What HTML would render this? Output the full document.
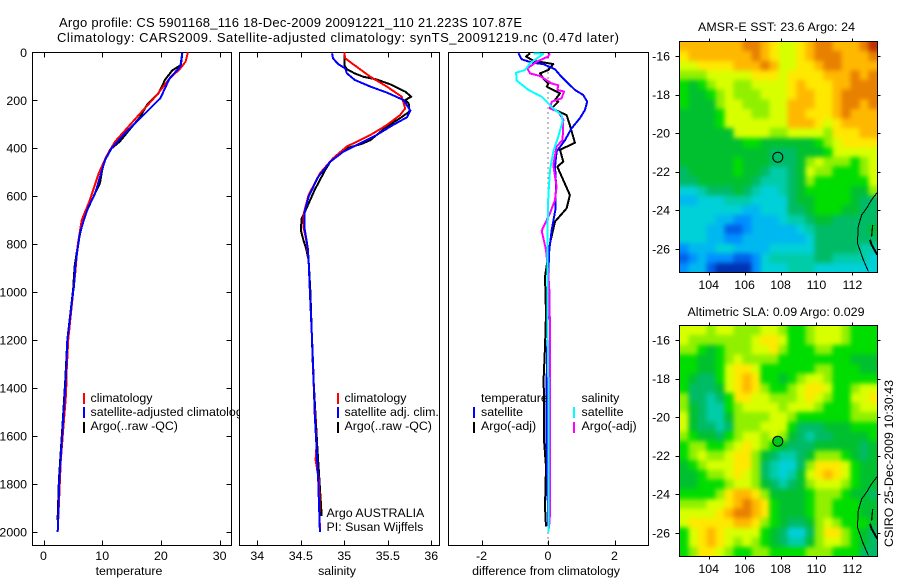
<!DOCTYPE html>
<html lang="en">
<head>
<meta charset="utf-8">
<title>Argo profile chart</title>
<style>
html,body{margin:0;padding:0;background:#fff;}
svg{display:block;}
text{font-family:"Liberation Sans",sans-serif;font-size:12.4px;fill:#000;}
.big{font-size:13px;}
</style>
</head>
<body>
<svg id="chart" xmlns="http://www.w3.org/2000/svg" width="900" height="580" viewBox="0 0 900 580">
  <defs>
    <filter id="map-smooth" x="-5%" y="-5%" width="110%" height="110%" color-interpolation-filters="sRGB">
      <feGaussianBlur stdDeviation="2.4"/>
    </filter>
  </defs>
  <rect x="0" y="0" width="900" height="580" fill="#fff"/>
  <text class="big" x="59" y="27" textLength="463" lengthAdjust="spacing">Argo profile: CS 5901168_116 18-Dec-2009 20091221_110 21.223S 107.87E</text>
  <text class="big" x="57" y="42" textLength="562" lengthAdjust="spacing">Climatology: CARS2009. Satellite-adjusted climatology: synTS_20091219.nc (0.47d later)</text>

  <g id="panel-t"></g>
  <g>
    <rect x="83" y="393" width="2" height="11" fill="#f00"/>
    <rect x="83" y="407" width="2" height="11" fill="#00f"/>
    <rect x="83" y="422" width="2" height="11" fill="#000"/>
    <text x="90.5" y="402">climatology</text>
    <text x="90.5" y="416">satellite-adjusted climatology</text>
    <text x="90.5" y="430">Argo(..raw -QC)</text>
  </g>

  <g id="panel-s"></g>
  <g>
    <rect x="337" y="393" width="2" height="11" fill="#f00"/>
    <rect x="337" y="407" width="2" height="11" fill="#00f"/>
    <rect x="337" y="422" width="2" height="11" fill="#000"/>
    <text x="344.5" y="402">climatology</text>
    <text x="344.5" y="416">satellite adj. clim.</text>
    <text x="344.5" y="430">Argo(..raw -QC)</text>
    <text x="326.5" y="517">Argo AUSTRALIA</text>
    <text x="326.5" y="531">PI: Susan Wijffels</text>
  </g>

  <g id="panel-d"></g>
  <g>
    <text x="481" y="402">temperature</text>
    <rect x="473" y="407" width="2" height="11" fill="#00f"/>
    <text x="481" y="416">satellite</text>
    <rect x="473" y="422" width="2" height="11" fill="#000"/>
    <text x="481" y="430">Argo(-adj)</text>
    <text x="581.5" y="402">salinity</text>
    <rect x="573" y="407" width="2" height="11" fill="#0ff"/>
    <text x="581.5" y="416">satellite</text>
    <rect x="573" y="422" width="2" height="11" fill="#f0f"/>
    <text x="581.5" y="430">Argo(-adj)</text>
  </g>

  <g id="map-sst"></g>
  <g id="map-sla"></g>
  <text x="698" y="31" textLength="157" lengthAdjust="spacing">AMSR-E SST: 23.6 Argo: 24</text>
  <text x="687.5" y="316" textLength="177" lengthAdjust="spacing">Altimetric SLA: 0.09 Argo: 0.029</text>
  <text transform="translate(893,547) rotate(-90)" textLength="167" lengthAdjust="spacing">CSIRO 25-Dec-2009 10:30:43</text>
</svg>

<script>
// ---------- Panel tick labels ----------
const depthTicks = [0,200,400,600,800,1000,1200,1400,1600,1800,2000];
const tempTicks = [0,10,20,30];
const salTicks = [34,34.5,35,35.5,36];
const diffTicks = [-2,0,2];
const lonTicks = [104,106,108,110,112];
const latTicks = [-16,-18,-20,-22,-24,-26];

// ---------- Temperature profiles ----------
const tClimDepth = [0,39,67,115,178,240,317,372,435,505,616,700,810,922,990,1200,1325,1419,1470,1700,2000];
const tClimValue = [24.6,24.2,23.3,21.3,19.3,17,14.2,12.2,10.7,9.4,7.9,6.5,5.8,5.4,5.1,4.2,3.95,3.85,3.7,2.95,2.42];
const tSatDepth = [0,60,108,192,233,289,345,400,449,505,588,644,706,755,824,894,977,1000,1200,1366,1561,1783,2000];
const tSatValue = [23.66,23.3,21.5,19.9,18.2,15.9,13.6,11.6,10.5,9.8,8.8,7.65,6.8,6.2,5.8,5.4,5.2,5.05,4.05,3.78,3.27,2.7,2.42];
const tArgoDepth = [0,53,76,115,171,220,268,372,407,463,546,602,692,796,894,990,1200,1366,1561,1783,1950];
const tArgoValue = [23.66,23.4,21.9,20.7,19.6,17.6,16.5,13,11.3,10.2,9.6,8.5,6.8,5.9,5.3,5.05,4.05,3.72,3.22,2.62,2.4];

// ---------- Salinity profiles ----------
const sClimDepth = [0,25,49,102,143,185,234,262,303,345,393,442,505,595,678,727,797,866,1000,1200,1400,1640,1700,1790,2000];
const sClimValue = [35,35.01,35.1,35.3,35.49,35.66,35.7,35.64,35.49,35.3,35.03,34.87,34.72,34.59,34.53,34.53,34.57,34.59,34.605,34.63,34.65,34.68,34.67,34.71,34.72];
const sSatDepth = [4,25,49,67,88,115,143,168,199,243,271,303,345,387,414,456,519,602,672,727,817,866,1000,1200,1325,1505,1645,1783,2000];
const sSatValue = [34.86,34.87,34.93,35.01,35.03,35.12,35.3,35.49,35.68,35.76,35.72,35.56,35.37,35.14,34.99,34.84,34.7,34.59,34.54,34.54,34.58,34.59,34.605,34.63,34.644,34.66,34.68,34.7,34.72];
const sArgoDepth = [4,53,71,88,102,113,134,164,185,199,213,247,275,310,366,382,400,456,491,574,664,692,741,783,817,866,1000,1325,1645,1934];
const sArgoValue = [35,35,35.03,35.12,35.22,35.37,35.53,35.7,35.77,35.7,35.74,35.75,35.64,35.49,35.3,35.2,35.03,34.84,34.78,34.66,34.55,34.51,34.5,34.53,34.56,34.59,34.61,34.64,34.69,34.74];

// ---------- Differences from climatology ----------
const dTSatDepth = [4,29,43,49,71,95,123,157,178,206,241,275,317,366,414,477,546,658,741,824,922,991,1353,1644,1985];
const dTSatValue = [-0.89,-0.79,-0.49,-0.14,0.21,0.36,0.56,0.81,1.06,1.18,1.11,0.96,0.71,0.51,0.26,0.21,0.24,0.22,0.11,0.04,0.01,0.01,-0.04,-0.04,0.01];
const dTArgoDepth = [4,18,35,49,74,88,109,130,143,171,199,206,234,262,296,377,407,456,477,595,651,706,797,853,936,1089,1228,1353,1617,1728,1895,1978];
const dTArgoValue = [-0.54,-0.66,-0.44,0.16,0.01,-0.24,-0.14,0.01,-0.04,0.36,0.21,0.31,0.11,0.56,0.64,0.81,0.36,0.46,0.28,0.66,0.56,0.21,0.06,0,-0.09,-0.06,-0.09,-0.13,-0.12,-0.06,-0.09,-0.06];
const dSArgoDepth = [4,18,39,67,88,99,130,137,157,164,192,206,234,248,282,366,393,470,560,616,671,744,824,922,991,1158,1380,1575,1922,1985];
const dSArgoValue = [0.06,0,-0.34,-0.62,-0.54,-0.24,0.11,0.31,0.28,0.48,0.41,0.11,0.06,0.31,0.46,0.44,0.26,0.16,0.26,0.21,0.06,-0.19,-0.06,0.01,0.04,0.06,0.06,0.06,0.06,0.03];
const dSSatDepth = [4,7,46,74,85,118,157,185,234,262,289,352,414,491,602,783,977,1060,1367,1783,2000];
const dSSatValue = [-0.44,-0.14,-0.54,-0.69,-0.96,-0.94,-0.59,-0.19,0.16,0.41,0.44,0.31,0.16,0.06,0.01,-0.02,-0.02,-0.02,0.01,0.01,0.01];

// ---------- Map fields (colour-level per grid cell, north to south) ----------
const mapLevels = ['#0033b0','#0060e8','#0090ff','#00b8f0','#00d0d8','#00cca8','#00bb66','#00c030','#00dd00','#90f000','#d8ff00','#ffe800','#ffb800','#e88000','#c03000'];
const sstGrid = [
[12,12,12,12,12,12,12,13,13,12,11,10,10,11,12,13,13,12,12,12,13,14],
[11,12,12,12,12,12,12,12,13,12,11,10,10,11,12,13,13,13,12,12,12,13],
[10,10,11,11,11,11,12,12,12,13,12,10,10,11,11,12,13,13,12,12,12,12],
[9,9,9,10,10,10,10,10,11,11,11,10,11,11,11,11,12,12,12,13,12,13],
[8,7,8,9,10,10,9,9,10,10,10,10,11,12,11,11,11,12,12,13,13,13],
[8,7,7,8,9,10,9,9,9,10,10,10,11,12,12,11,11,12,13,13,13,13],
[8,7,7,7,9,10,10,9,9,9,10,10,12,12,12,11,11,12,13,13,12,13],
[7,7,7,7,8,10,10,10,9,9,10,10,12,12,11,11,11,12,13,12,12,12],
[7,7,7,7,8,10,10,10,10,10,10,10,12,12,12,11,10,11,12,12,12,12],
[7,7,7,7,7,7,10,10,10,10,9,9,10,10,10,10,9,11,11,11,12,12],
[7,7,7,7,7,7,7,8,8,7,7,7,7,7,7,8,9,10,11,11,11,11],
[7,7,7,7,7,7,7,7,7,7,6,6,6,7,7,7,8,10,10,10,10,10],
[7,7,7,7,7,7,8,7,7,7,6,6,6,7,9,10,9,9,9,8,9,10],
[6,7,7,7,7,7,8,7,7,6,5,5,6,7,10,9,9,8,8,8,9,10],
[6,6,7,7,7,7,7,7,6,5,5,5,6,7,9,8,8,8,8,8,8,10],
[4,4,5,6,6,6,7,6,5,4,4,5,6,7,8,8,8,8,8,7,7,9],
[3,3,4,4,4,5,5,5,4,4,4,4,6,7,7,8,8,8,8,7,6,6],
[4,4,4,4,4,4,4,3,3,4,4,4,6,6,7,8,8,8,7,7,6,6],
[4,4,4,4,3,3,2,2,3,3,3,4,5,5,6,7,7,6,6,6,6,6],
[4,4,4,3,3,1,1,2,3,3,3,3,3,4,5,6,6,6,6,6,6,7],
[4,4,4,3,3,2,2,3,3,3,3,3,3,3,4,6,6,6,6,6,6,6],
[2,3,3,3,4,4,3,3,3,3,4,4,4,4,4,6,6,6,6,6,5,5],
[1,2,3,2,2,2,1,1,2,4,5,5,5,5,5,6,6,5,5,5,5,4],
[2,3,3,1,0,0,0,0,2,4,4,4,5,5,5,4,4,4,4,4,4,4]
];
const slaGrid = [
[10,10,10,9,10,10,9,9,9,10,10,9,8,8,9,10,10,10,9,8,8,8],
[10,9,9,9,9,9,9,9,10,11,11,10,8,8,9,10,10,10,9,8,8,8],
[9,9,8,7,8,9,9,9,10,10,11,9,8,8,8,9,9,8,8,8,8,8],
[8,8,7,7,8,9,10,9,9,9,9,8,8,8,8,8,8,8,8,7,7,7],
[8,8,7,7,8,10,11,11,10,8,8,8,8,8,8,9,9,8,8,8,7,7],
[8,7,6,6,8,10,11,12,11,8,8,7,8,9,10,10,9,8,8,8,8,8],
[8,6,6,6,7,10,11,12,11,9,8,8,9,10,11,11,10,8,8,9,10,10],
[9,6,6,5,6,8,11,11,10,10,9,9,9,10,11,10,9,8,8,10,10,11],
[9,7,6,5,5,8,9,10,10,10,10,9,10,10,10,9,8,8,8,9,10,10],
[10,7,6,5,5,7,9,9,9,9,10,10,9,8,8,8,8,8,8,9,9,9],
[10,7,6,6,5,6,9,9,9,10,10,10,8,6,6,6,7,7,7,8,8,8],
[9,8,7,7,6,8,9,10,10,9,10,9,7,6,5,6,6,7,7,7,7,8],
[8,9,9,8,8,9,10,11,10,9,8,7,6,6,6,7,7,7,7,7,6,7],
[8,9,10,9,9,10,11,11,9,7,6,5,5,6,7,9,9,9,8,7,6,7],
[7,8,9,10,10,10,11,11,9,6,5,4,4,6,9,11,11,11,10,8,7,7],
[7,7,8,9,9,10,11,10,9,6,5,4,5,7,10,11,12,11,10,8,7,7],
[7,7,8,8,8,9,10,10,9,7,6,5,6,7,9,10,10,10,9,8,7,7],
[8,8,8,8,9,11,12,12,11,9,7,7,7,7,8,9,9,9,8,7,7,6],
[9,9,9,10,10,11,12,13,12,11,8,7,7,7,8,9,9,8,8,8,7,7],
[10,10,10,10,11,12,13,13,12,11,8,7,7,7,8,9,9,8,8,8,7,7],
[10,11,11,11,11,11,12,12,11,9,8,7,6,6,7,9,10,9,8,8,8,7],
[8,10,11,12,11,10,10,10,10,8,7,6,4,4,6,9,11,11,9,8,7,6],
[8,10,11,12,11,10,9,10,9,8,7,6,5,5,7,9,10,10,9,8,7,6],
[8,9,11,11,10,9,8,8,9,9,8,8,8,8,9,9,9,8,8,8,6,6]
];
const coastLon = [113.39,113.07,112.8,112.52,112.33,112.28,112.61,112.89];
const coastLat = [-23.08,-23.46,-23.89,-24.24,-24.84,-25.7,-26.57,-27.17];
const islandLon = [113.13,113.07];
const islandLat = [-24.76,-25.36];
const bayLon = [112.98,113.07,113.39];
const bayLat = [-25.53,-25.79,-26.31];
const floatLon = [107.87];
const floatLat = [-21.223];

// ---------- Axis functions ----------
const NS = 'http://www.w3.org/2000/svg';
const PANEL_TOP = 52.5, PANEL_BOTTOM = 545.5;
function yDepth(z){ return 52.3 + z * 0.2398; }
function xTemp(t){ return 43.5 + t * 5.87; }
function xSal(s){ return 257.3 + (s - 34) * 87; }
function xDiff(d){ return 548 + d * 33.25; }
function xLon(lon){ return 708.7 + (lon - 104) * 17.96; }
function mk(parent, tag, attrs){
  const el = document.createElementNS(NS, tag);
  for (const k in attrs) el.setAttribute(k, attrs[k]);
  parent.appendChild(el);
  return el;
}
function pathFrom(xs, ys, fx, fy){
  return xs.map(function(v, i){ return (i ? 'L' : 'M') + fx(v).toFixed(1) + ' ' + fy(ys[i]).toFixed(1); }).join(' ');
}

function drawFrame(g, left, right){
  const bg = mk(g, 'rect', {x:left, y:PANEL_TOP, width:right-left, height:PANEL_BOTTOM-PANEL_TOP, fill:'#fff', stroke:'#000', 'stroke-width':1, 'shape-rendering':'crispEdges'});
  
  
}
function drawXAxis(g, ticks, fx, labelFmt){
  ticks.forEach(function(v){
    const x = Math.round(fx(v)) + 0.5;
    const top = mk(g, 'line', {x1:x, x2:x, y1:PANEL_TOP, y2:PANEL_TOP+5, stroke:'#000', 'shape-rendering':'crispEdges'});
    
    
    const bot = mk(g, 'line', {x1:x, x2:x, y1:PANEL_BOTTOM, y2:PANEL_BOTTOM-5, stroke:'#000', 'shape-rendering':'crispEdges'});
    
    
    const t = mk(g, 'text', {x:fx(v), y:560, 'text-anchor':'middle'});
    t.textContent = labelFmt ? labelFmt(v) : String(v);
    
    
  });
}
function drawLine(g, depth, vals, fx, color, width, name){
  const p = mk(g, 'path', {d:pathFrom(vals, depth, fx, yDepth), fill:'none', stroke:color, 'stroke-width':width, 'stroke-linejoin':'round', 'shape-rendering':'crispEdges'});
  
  
}
function drawXTitle(g, x, label){
  const t = mk(g, 'text', {x:x, y:575, 'text-anchor':'middle'});
  t.textContent = label;
  
  
}

// Temperature panel
const gT = document.getElementById('panel-t');
drawFrame(gT, 32.5, 231.5);
depthTicks.forEach(function(z){
  const y = Math.round(yDepth(z)) + 0.5;
  const a = mk(gT, 'line', {x1:32.5, x2:37.5, y1:y, y2:y, stroke:'#000', 'shape-rendering':'crispEdges'});
  
  
  const b = mk(gT, 'line', {x1:226.5, x2:231.5, y1:y, y2:y, stroke:'#000', 'shape-rendering':'crispEdges'});
  
  
  const t = mk(gT, 'text', {x:27, y:yDepth(z)+4.5, 'text-anchor':'end'});
  t.textContent = String(z);
  
  
});
drawXAxis(gT, tempTicks, xTemp);
drawXTitle(gT, 129, 'temperature');
drawLine(gT, tArgoDepth, tArgoValue, xTemp, '#000', 2, 'temperature-argo-line');
drawLine(gT, tClimDepth, tClimValue, xTemp, '#f00', 2, 'temperature-climatology-line');
drawLine(gT, tSatDepth, tSatValue, xTemp, '#00f', 2, 'temperature-satellite-line');

// Salinity panel
const gS = document.getElementById('panel-s');
drawFrame(gS, 239.5, 439.5);
drawXAxis(gS, salTicks, xSal);
drawXTitle(gS, 337, 'salinity');
drawLine(gS, sArgoDepth, sArgoValue, xSal, '#000', 2, 'salinity-argo-line');
drawLine(gS, sClimDepth, sClimValue, xSal, '#f00', 2, 'salinity-climatology-line');
drawLine(gS, sSatDepth, sSatValue, xSal, '#00f', 2, 'salinity-satellite-line');

// Difference panel
const gD = document.getElementById('panel-d');
drawFrame(gD, 448.5, 648.5);
const zeroLine = mk(gD, 'line', {x1:xDiff(0), x2:xDiff(0), y1:PANEL_TOP, y2:PANEL_BOTTOM, stroke:'#000', 'stroke-width':1, 'stroke-dasharray':'1 4', 'shape-rendering':'crispEdges'});


drawXAxis(gD, diffTicks, xDiff);
drawXTitle(gD, 546, 'difference from climatology');
drawLine(gD, dTArgoDepth, dTArgoValue, xDiff, '#000', 2, 'diff-temperature-argo-line');
drawLine(gD, dTSatDepth, dTSatValue, xDiff, '#00f', 2, 'diff-temperature-satellite-line');
drawLine(gD, dSArgoDepth, dSArgoValue, xDiff, '#f0f', 2, 'diff-salinity-argo-line');
drawLine(gD, dSSatDepth, dSSatValue, xDiff, '#0ff', 2, 'diff-salinity-satellite-line');

// Maps
function drawMap(g, grid, top, bottom, lat16, labelY, markerFill, clipId){
  const left = 679.5, right = 877.5, pad = 10;
  const yLat = function(lat){ return lat16 + (-16 - lat) * 19.28; };
  const rows = grid.length, cols = grid[0].length;
  const cw = (right - left) / cols, ch = (bottom - top) / rows;
  const clip = mk(g, 'clipPath', {id:clipId});
  
  
  const clipRect = mk(clip, 'rect', {x:left, y:top, width:right-left, height:bottom-top});
  
  
  const clipped = mk(g, 'g', {'clip-path':'url(#' + clipId + ')'});
  
  
  const field = mk(clipped, 'g', {filter:'url(#map-smooth)'});
  
  
  grid.forEach(function(row, r){
    row.forEach(function(v, c){
      const x0 = left + c * cw - (c === 0 ? pad : 0);
      const x1 = left + (c + 1) * cw + (c === cols - 1 ? pad : 0.4);
      const y0 = top + r * ch - (r === 0 ? pad : 0);
      const y1 = top + (r + 1) * ch + (r === rows - 1 ? pad : 0.4);
      const cell = mk(field, 'rect', {x:x0.toFixed(2), y:y0.toFixed(2), width:(x1 - x0).toFixed(2), height:(y1 - y0).toFixed(2), fill:mapLevels[v], 'shape-rendering':'crispEdges'});
      
      
    });
  });
  const coast = mk(clipped, 'path', {d:pathFrom(coastLon, coastLat, xLon, yLat), fill:'none', stroke:'#000', 'stroke-width':1, 'shape-rendering':'crispEdges'});
  
  
  const island = mk(clipped, 'path', {d:pathFrom(islandLon, islandLat, xLon, yLat), fill:'none', stroke:'#000', 'stroke-width':1.2, 'shape-rendering':'crispEdges'});
  
  
  const bay = mk(clipped, 'path', {d:pathFrom(bayLon, bayLat, xLon, yLat), fill:'none', stroke:'#000', 'stroke-width':2, 'shape-rendering':'crispEdges'});
  
  
  const frame = mk(g, 'rect', {x:left, y:top, width:right-left, height:bottom-top, fill:'none', stroke:'#000', 'shape-rendering':'crispEdges'});
  
  
  lonTicks.forEach(function(lon){
    const x = Math.round(xLon(lon)) + 0.5;
    const a = mk(g, 'line', {x1:x, x2:x, y1:top-3, y2:top, stroke:'#000', 'shape-rendering':'crispEdges'});
    
    
    const b = mk(g, 'line', {x1:x, x2:x, y1:bottom, y2:bottom+3, stroke:'#000', 'shape-rendering':'crispEdges'});
    
    
    const t = mk(g, 'text', {x:xLon(lon), y:labelY, 'text-anchor':'middle'});
    t.textContent = String(lon);
    
    
  });
  latTicks.forEach(function(lat){
    const y = Math.round(yLat(lat)) + 0.5;
    const a = mk(g, 'line', {x1:left-4, x2:left, y1:y, y2:y, stroke:'#000', 'shape-rendering':'crispEdges'});
    
    
    const b = mk(g, 'line', {x1:right, x2:right+3, y1:y, y2:y, stroke:'#000', 'shape-rendering':'crispEdges'});
    
    
    const t = mk(g, 'text', {x:670, y:yLat(lat)+4.5, 'text-anchor':'end'});
    t.textContent = String(lat);
    
    
  });
  const marker = mk(g, 'circle', {cx:xLon(floatLon[0]) - 0.4, cy:yLat(floatLat[0]) + 0.5, r:5, fill:markerFill, stroke:'#000', 'stroke-width':1});
  
  
}
drawMap(document.getElementById('map-sst'), sstGrid, 41.5, 272.5, 56, 289, 'none', 'clip-sst');
drawMap(document.getElementById('map-sla'), slaGrid, 325.5, 556.5, 340, 573, '#00c81e', 'clip-sla');
</script>
</body>
</html>
